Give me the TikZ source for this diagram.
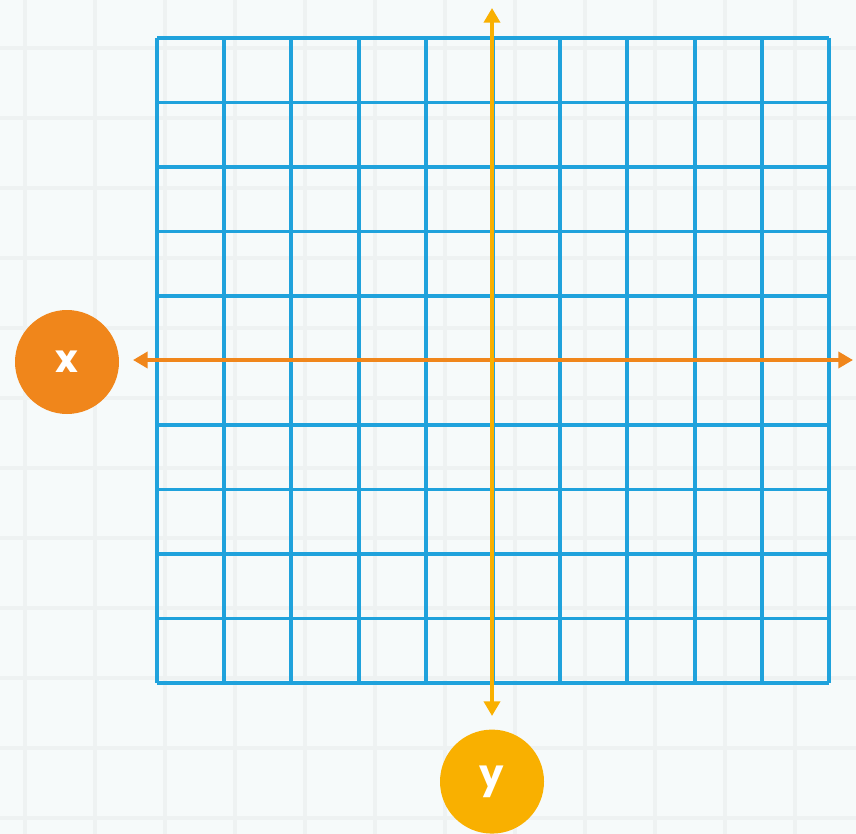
\documentclass[tikz,border=0pt]{standalone}
\usepackage{fontspec}
\setsansfont{Poppins}
\usepackage{tikz}
\usetikzlibrary{arrows.meta, positioning}
\definecolor{paper}{HTML}{F6FAFA}
\definecolor{faint}{HTML}{EEF2F2}
\definecolor{gridblue}{HTML}{1FA2DC}
\definecolor{xorange}{HTML}{F0861B}
\definecolor{yamber}{HTML}{F9B000}

\begin{document}
\begin{tikzpicture}[
  x=0.75pt, y=-0.75pt,
  cell/.style={draw=gridblue, line width=2.9pt},
  axis/.style={line width=3.6pt, {Triangle[length=11pt, width=12pt]}-{Triangle[length=11pt, width=12pt]}},
  label/.style={circle, minimum size=78pt, inner sep=0pt, text=white,
                font=\sffamily\bfseries\fontsize{29}{29}\selectfont},
]
\useasboundingbox (0,0) rectangle (856,834);
\fill[paper] (0,0) rectangle (856,834);

% faint paper grid
\foreach \gx in {25,95,...,865}
  \draw[faint, line width=3pt] (\gx,0) -- (\gx,834);
\foreach \gy in {48,118,...,840}
  \draw[faint, line width=3pt] (0,\gy) -- (856,\gy);

% blue grid
\foreach \i in {0,...,10}
  \draw[cell] (157+67.2*\i,38) -- (157+67.2*\i,683);
\foreach \j in {0,...,10}
  \draw[cell] (157,38+64.5*\j) -- (829,38+64.5*\j);

% axis ends
\coordinate (xwest) at (133,360);
\coordinate (xeast) at (853,360);
\coordinate (ynorth) at (492,8);
\coordinate (ysouth) at (492,716);

% axes
\draw[axis, xorange] (xwest) -- (xeast);
\draw[axis, yamber] (ynorth) -- (ysouth);

% labels
\node[label, fill=xorange] (xlab) at (67,362) {x};
\node[label, fill=yamber, below=10pt of ysouth] (ylab) {y};

\end{tikzpicture}
\end{document}
